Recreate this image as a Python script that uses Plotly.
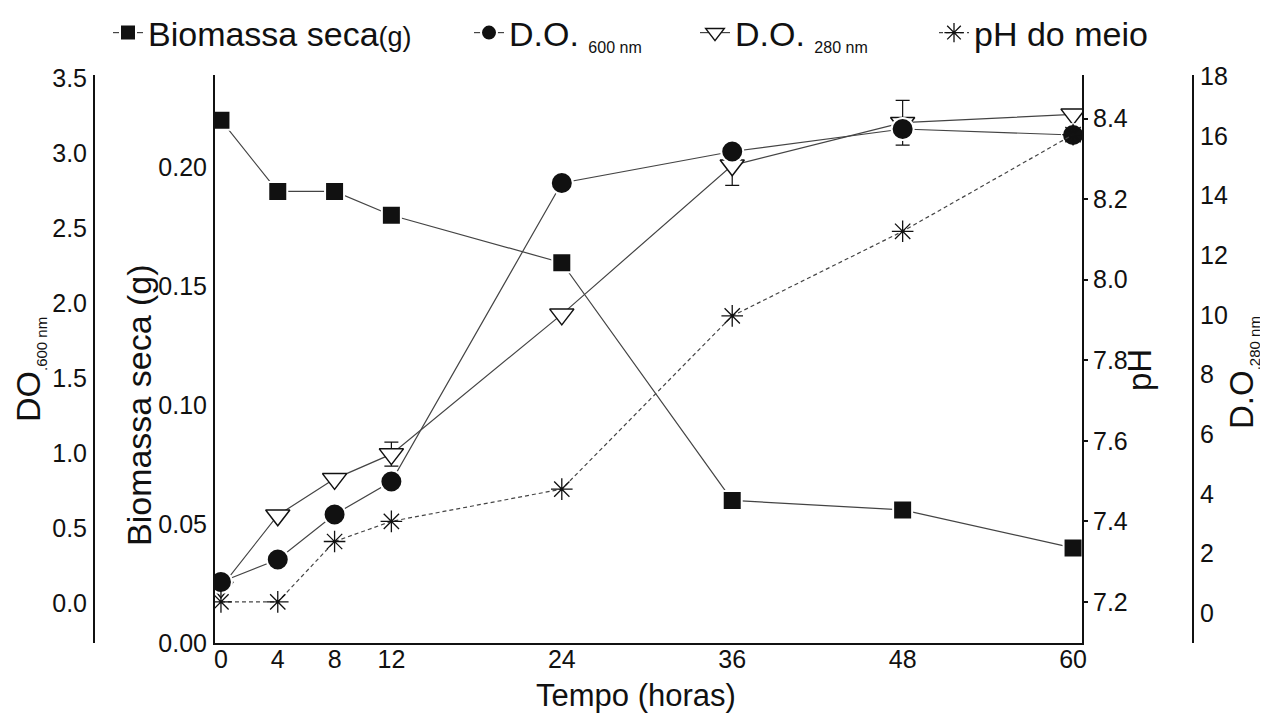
import plotly.graph_objects as go

# ---- data ----
tempo = [0, 4, 8, 12, 24, 36, 48, 60]
x_ticks = [0, 4, 8, 12, 24, 36, 48, 60]
biomassa = [0.220, 0.190, 0.190, 0.180, 0.160, 0.060, 0.056, 0.040]
do600 = [0.14, 0.29, 0.59, 0.81, 2.80, 3.01, 3.16, 3.12]
do280 = [0.86, 3.28, 4.50, 5.33, 10.02, 15.02, 16.45, 16.73]
do280_err = [0, 0, 0, 0.40, 0, 0.67, 0.75, 0]
ph = [7.20, 7.20, 7.35, 7.40, 7.48, 7.91, 8.12, 8.36]

# the page body adds an 8 px offset; the figure is laid out in page pixels minus 8
W, H = 1260, 705
OFF = 8
TOP, BOTTOM = 75, 643          # plot area, page pixels
PH = BOTTOM - TOP

FONT = "Liberation Sans, Arial, sans-serif"
INK = "#111111"
LINE = "#444444"


def px(x):
    return (x - OFF) / W


def py(y):
    return (BOTTOM - y) / PH


fig = go.Figure()

fig.add_trace(go.Scatter(
    x=tempo, y=biomassa, yaxis="y", mode="lines+markers",
    name="Biomassa seca<span style='font-size:27px'>(g)</span>",
    line=dict(color=LINE, width=1.2),
    marker=dict(symbol="square", size=19, color=INK, line=dict(color="white", width=2)),
    legend="legend"))

fig.add_trace(go.Scatter(
    x=tempo, y=do280, yaxis="y2", mode="lines+markers",
    name="D.O. <sub><span style='font-size:16px'>280 nm</span></sub>",
    line=dict(color=LINE, width=1.2),
    marker=dict(symbol="triangle-down", size=21, color="white", line=dict(color=INK, width=1.5)),
    error_y=dict(type="data", array=do280_err, visible=True, color=INK, thickness=1.2, width=7),
    legend="legend3"))

fig.add_trace(go.Scatter(
    x=tempo, y=do600, yaxis="y3", mode="lines+markers",
    name="D.O. <sub><span style='font-size:16px'>600 nm</span></sub>",
    line=dict(color=LINE, width=1.2),
    marker=dict(symbol="circle", size=22, color=INK, line=dict(color="white", width=2)),
    legend="legend2"))

fig.add_trace(go.Scatter(
    x=tempo, y=ph, yaxis="y4", mode="lines+markers",
    name="pH do meio",
    line=dict(color=LINE, width=1.2, dash="4px,3px"),
    marker=dict(symbol="asterisk-open", size=18, color=INK, line=dict(color=INK, width=1.3)),
    legend="legend4"))

tickfont = dict(family=FONT, size=25, color=INK)


def tfont(size):
    return dict(family=FONT, size=size, color=INK)


common_y = dict(showgrid=False, zeroline=False, showline=True, linecolor=INK,
                linewidth=2, tickfont=tickfont)

leg_common = dict(orientation="h", yanchor="middle", y=py(33), xanchor="left",
                  font=tfont(34), bgcolor="rgba(0,0,0,0)")

fig.update_layout(
    width=W, height=H,
    margin=dict(l=0, r=0, t=TOP - OFF, b=H - (BOTTOM - OFF), autoexpand=False),
    paper_bgcolor="white", plot_bgcolor="white",
    font=dict(family=FONT, color=INK),
    showlegend=True,
    xaxis=dict(domain=[px(215), px(1082)], range=[-0.42, 60.63],
               tickvals=x_ticks, ticktext=[str(v) for v in x_ticks],
               showgrid=False, zeroline=False, showline=True, linecolor=INK, linewidth=2,
               ticks="", ticklabelstandoff=-7, tickfont=tickfont),
    yaxis=dict(range=[0, 0.239], tickvals=[0, 0.05, 0.10, 0.15, 0.20], tickformat=".2f",
               side="left", ticks="", ticklabelstandoff=1, **common_y),
    yaxis2=dict(range=[-1.007, 18.05], tickvals=list(range(0, 19, 2)),
                overlaying="y", side="right", anchor="free", position=px(1193),
                ticks="", ticklabelstandoff=1, **common_y),
    yaxis3=dict(range=[-0.267, 3.52], tickvals=[0, 0.5, 1.0, 1.5, 2.0, 2.5, 3.0, 3.5],
                tickformat=".1f", overlaying="y", side="left", anchor="free",
                position=px(94), ticks="", ticklabelstandoff=1, **common_y),
    yaxis4=dict(range=[7.098, 8.508], tickvals=[7.2, 7.4, 7.6, 7.8, 8.0, 8.2, 8.4],
                tickformat=".1f", overlaying="y", side="right", anchor="x",
                ticks="outside", ticklen=4, tickwidth=1.5, tickcolor=INK,
                ticklabelstandoff=0, **common_y),
    legend=dict(x=px(108), **leg_common),
    legend2=dict(x=px(469), **leg_common),
    legend3=dict(x=px(695), **leg_common),
    legend4=dict(x=px(934), **leg_common),
)

# axis titles
titles = [
    ("Tempo (horas)", 636, 695, 0, 31),
    ("Biomassa seca (g)", 139, 405, -90, 34),
    ("DO<sub><span style='font-size:15px'>.600 nm</span></sub>", 30, 370, -90, 34),
    ("pH", 1140, 370, -90, 33),
    ("D.O<sub><span style='font-size:15px'>.280 nm</span></sub>", 1243, 373, -90, 33),
]
for text, tx, ty, ang, fs in titles:
    fig.add_annotation(text=text, xref="paper", yref="paper", x=px(tx), y=py(ty),
                       xanchor="center", yanchor="middle", textangle=ang,
                       showarrow=False, font=tfont(fs))

fig.write_html("out.html")
